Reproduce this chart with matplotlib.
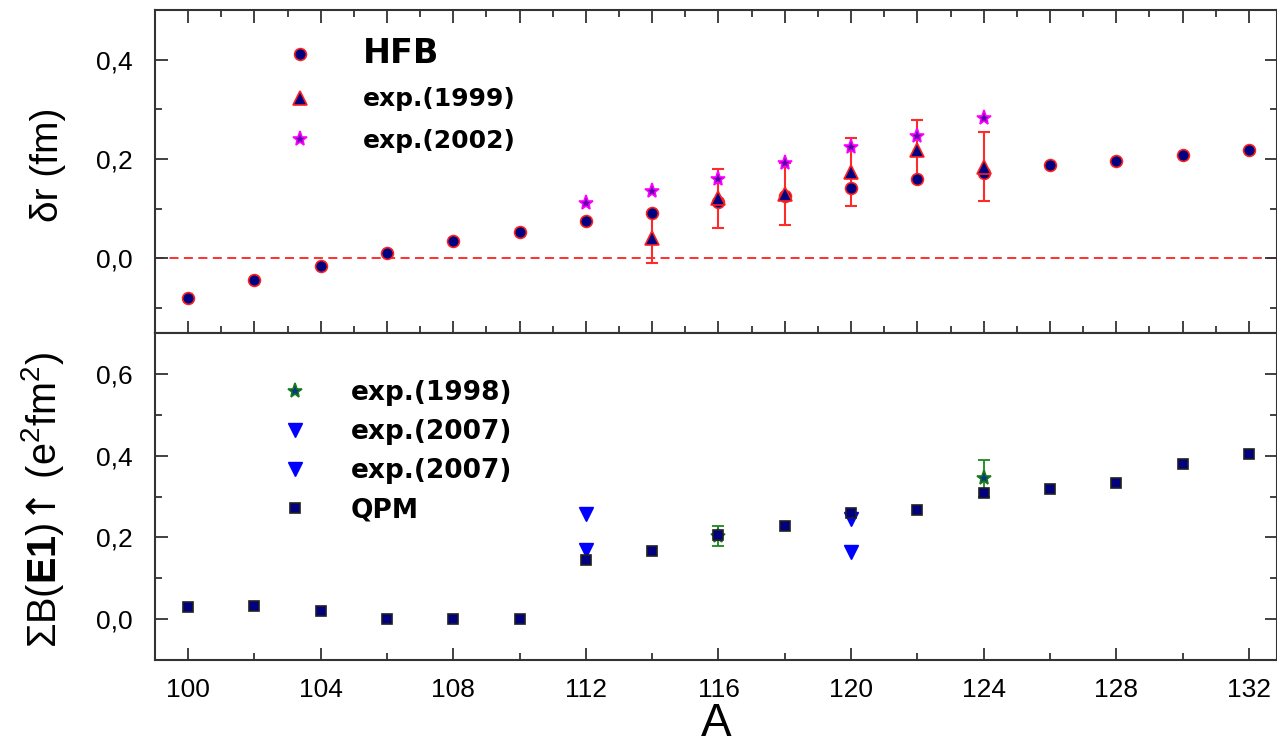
import numpy as np
import matplotlib
matplotlib.use("Agg")
import matplotlib.pyplot as plt
from matplotlib.ticker import MultipleLocator, FuncFormatter

plt.rcParams['font.family'] = ['Liberation Sans', 'DejaVu Sans']
plt.rcParams['mathtext.fontset'] = 'custom'
plt.rcParams['mathtext.rm'] = 'Liberation Sans'
plt.rcParams['mathtext.bf'] = 'Liberation Sans:bold'
plt.rcParams['mathtext.it'] = 'Liberation Sans:italic'
plt.rcParams['mathtext.sf'] = 'DejaVu Sans'

# upper panel: delta r (fm)
A_hfb = [100, 102, 104, 106, 108, 110, 112, 114, 116, 118, 120, 122, 124, 126, 128, 130, 132]
hfb = [-0.080, -0.043, -0.015, 0.011, 0.035, 0.054, 0.076, 0.092, 0.113, 0.126,
       0.142, 0.159, 0.172, 0.188, 0.196, 0.208, 0.218]

A_exp99 = [114, 116, 118, 120, 122, 124]
exp99 = [0.042, 0.121, 0.130, 0.174, 0.219, 0.185]
exp99_err = [0.052, 0.060, 0.062, 0.068, 0.059, 0.070]

A_exp02 = [112, 114, 116, 118, 120, 122, 124]
exp02 = [0.111, 0.136, 0.159, 0.192, 0.224, 0.246, 0.283]

# lower panel: sum B(E1) (e^2 fm^2)
A_qpm = [100, 102, 104, 106, 108, 110, 112, 114, 116, 118, 120, 122, 124, 126, 128, 130, 132]
qpm = [0.030, 0.033, 0.019, 0.001, 0.001, 0.001, 0.145, 0.166, 0.207, 0.229,
       0.259, 0.268, 0.309, 0.318, 0.332, 0.379, 0.404]

A_exp98 = [116, 124]
exp98 = [0.203, 0.345]
exp98_err = [0.025, 0.045]

A_exp07a = [112, 120]
exp07a = [0.257, 0.246]
A_exp07b = [112, 120]
exp07b = [0.168, 0.163]

W, H = 1277, 752
fig = plt.figure(figsize=(W / 100, H / 100), dpi=100)

left = 155 / W
right = 1.0
ax1 = fig.add_axes([left, (H - 333) / H, right - left, (333 - 10) / H])
ax2 = fig.add_axes([left, (H - 660) / H, right - left, (660 - 333) / H])

comma = FuncFormatter(lambda v, p: f"{v:.1f}".replace('.', ','))

for ax in (ax1, ax2):
    ax.set_xlim(99, 132.85)
    for s in ax.spines.values():
        s.set_color('#333333')
        s.set_linewidth(1.5)
    ax.tick_params(which='both', direction='in', top=True, right=True,
                   color='#333333', width=1.3, labelsize=19)
    ax.tick_params(which='major', length=9)
    ax.tick_params(which='minor', length=5)
    ax.tick_params(axis='y', pad=16)
    ax.tick_params(axis='x', pad=13)
    ax.yaxis.set_major_formatter(comma)

# ---- top panel
ax1.set_ylim(-0.15, 0.5)
ax1.xaxis.set_major_locator(MultipleLocator(2))
ax1.xaxis.set_minor_locator(MultipleLocator(1))
ax1.yaxis.set_major_locator(MultipleLocator(0.2))
ax1.yaxis.set_minor_locator(MultipleLocator(0.1))
ax1.tick_params(labelbottom=False)
ax1.set_yticks([0.0, 0.2, 0.4])

ax1.axhline(0, color='#ff2020', lw=1.3, ls=(0, (5, 3)), zorder=1)

ax1.errorbar(A_exp99, exp99, yerr=exp99_err, fmt='none', ecolor='#ff2a2a',
             elinewidth=1.5, capsize=4.5, capthick=1.5, zorder=2)
ax1.plot(A_hfb, hfb, 'o', ms=8.5, mfc='#000080', mec='#ff2020', mew=1.2,
         ls='none', label='HFB', zorder=3)
ax1.plot(A_exp99, exp99, '^', ms=9.5, mfc='#000080', mec='#ff2020', mew=1.2,
         ls='none', label='exp.(1999)', zorder=4)
ax1.plot(A_exp02, exp02, '*', ms=11, mfc='#5a00b0', mec='#ff00ff', mew=1.2,
         ls='none', label='exp.(2002)', zorder=4)

leg1 = ax1.legend(loc='upper left', bbox_to_anchor=(0.118, 0.917), frameon=False,
                  borderpad=0, borderaxespad=0, handlelength=1.0, handletextpad=2.0,
                  labelspacing=0.7, prop={'family': 'DejaVu Sans', 'weight': 'bold', 'size': 18})
leg1.get_texts()[0].set_fontsize(24)

ax1.set_ylabel('δr (fm)', fontsize=28)
ax1.yaxis.set_label_coords(-0.079, 0.52)

# ---- bottom panel
ax2.set_ylim(-0.1, 0.7)
ax2.xaxis.set_major_locator(MultipleLocator(4))
ax2.xaxis.set_minor_locator(MultipleLocator(2))
ax2.yaxis.set_major_locator(MultipleLocator(0.2))
ax2.yaxis.set_minor_locator(MultipleLocator(0.1))
ax2.tick_params(top=False, which='both')
ax2.set_yticks([0.0, 0.2, 0.4, 0.6])

ax2.errorbar(A_exp98, exp98, yerr=exp98_err, fmt='none', ecolor='#1a8a1a',
             elinewidth=1.3, capsize=4.5, capthick=1.3, zorder=2)
ax2.plot(A_exp98, exp98, '*', ms=11, mfc='#003a80', mec='#1a7a1a', mew=1.2,
         ls='none', label='exp.(1998)', zorder=3)
ax2.plot(A_exp07a, exp07a, 'v', ms=10, mfc='#0000ff', mec='#0000ff',
         ls='none', label='exp.(2007)', zorder=3)
ax2.plot(A_exp07b, exp07b, 'v', ms=10, mfc='#0000ff', mec='#0000ff',
         ls='none', label='exp.(2007)', zorder=3)
ax2.plot(A_qpm, qpm, 's', ms=7.5, mfc='#000080', mec='#202020', mew=1.2,
         ls='none', label='QPM', zorder=4)

leg2 = ax2.legend(loc='upper left', bbox_to_anchor=(0.113, 0.857), frameon=False,
                  borderpad=0, borderaxespad=0, handlelength=1.0, handletextpad=1.6,
                  labelspacing=0.5, prop={'family': 'DejaVu Sans', 'weight': 'bold', 'size': 19})

ax2.set_ylabel(r'$\Sigma$B($\mathbf{E1}$)$\mathsf{↑}$ (e$^2$fm$^2$)', fontsize=28.5)
ax2.yaxis.set_label_coords(-0.079, 0.49)
ax2.set_xlabel('A', fontsize=33, labelpad=0)

fig.savefig('out.png', dpi=100)
